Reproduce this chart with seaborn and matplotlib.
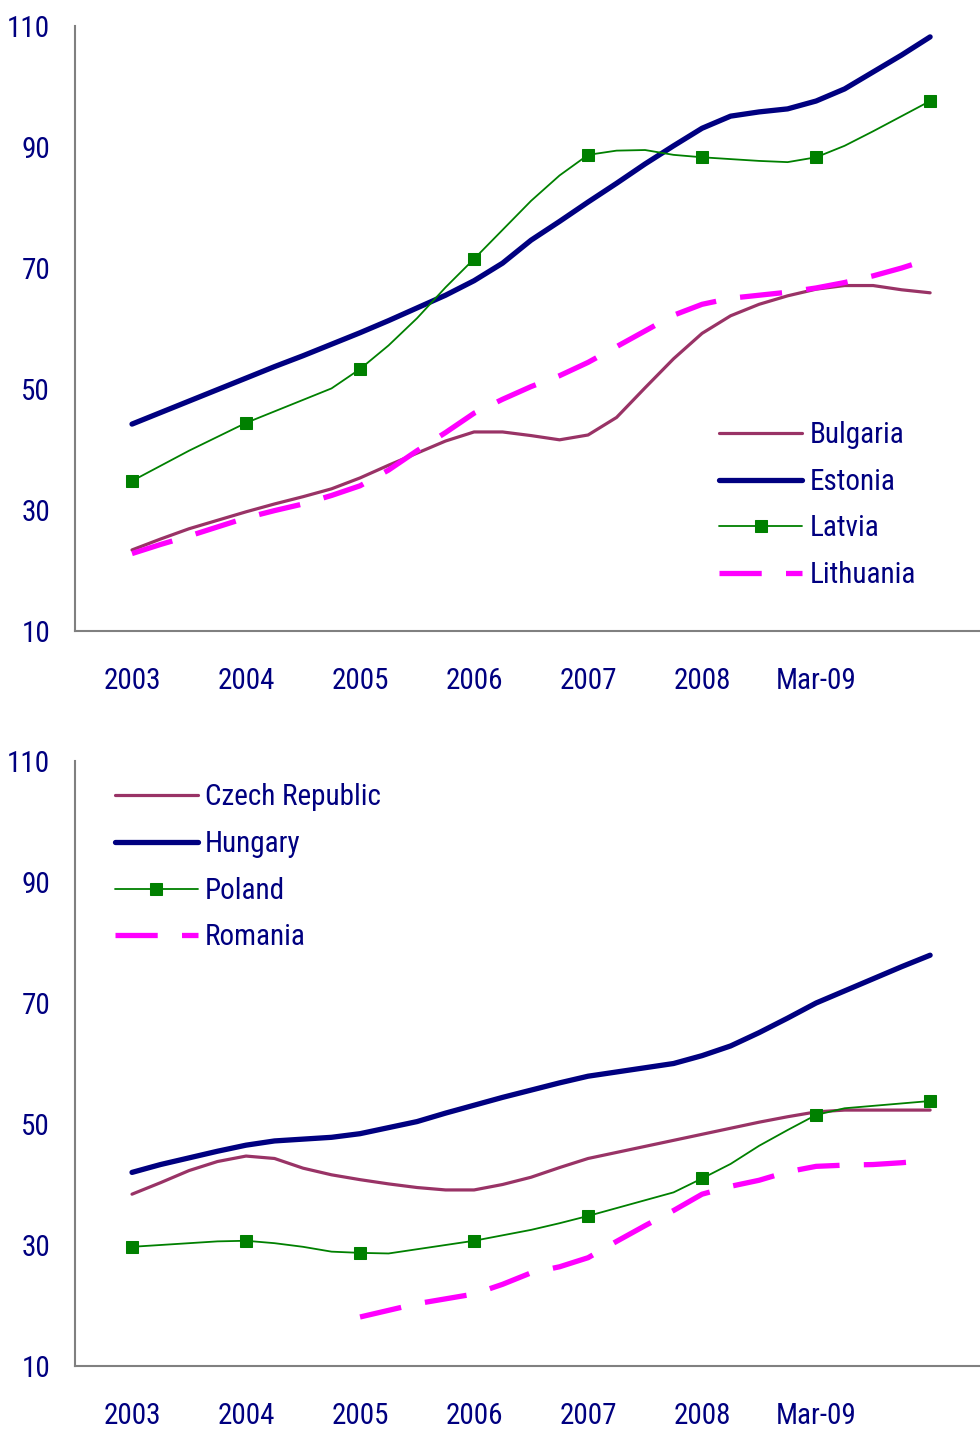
import numpy as np
import pandas as pd
import matplotlib
matplotlib.use("Agg")
import matplotlib.pyplot as plt
import seaborn as sns
from matplotlib import font_manager

# ---------------- data (quarterly, 2003 .. end) ----------------
quarters = list(range(29))
tick_positions = [0, 4, 8, 12, 16, 20, 24]
tick_labels = ["2003", "2004", "2005", "2006", "2007", "2008", "Mar-09"]
yticks = [10, 30, 50, 70, 90, 110]

bulgaria = [23.4, 25.2, 26.9, 28.3, 29.7, 31.0, 32.2, 33.5, 35.3, 37.4, 39.4, 41.4, 42.9, 42.9,
            42.3, 41.6, 42.4, 45.3, 50.2, 55.0, 59.2, 62.1, 64.0, 65.4, 66.5, 67.1, 67.1, 66.4, 65.9]
estonia = [44.2, 46.1, 48.0, 49.9, 51.8, 53.7, 55.5, 57.4, 59.3, 61.3, 63.4, 65.5, 67.9, 70.8,
           74.6, 77.7, 80.9, 84.0, 87.2, 90.2, 93.1, 95.1, 95.8, 96.3, 97.6, 99.6, 102.4, 105.2, 108.2]
latvia = [34.8, 37.3, 39.8, 42.1, 44.4, 46.3, 48.2, 50.1, 53.3, 57.2, 61.7, 66.8, 71.5, 76.3,
          81.1, 85.3, 88.7, 89.4, 89.5, 88.7, 88.3, 88.0, 87.7, 87.5, 88.3, 90.2, 92.6, 95.1, 97.6]
lithuania = [22.8, 24.3, 25.7, 27.2, 28.7, 29.9, 31.0, 32.4, 34.0, 36.6, 39.8, 42.8, 46.0, 48.3,
             50.4, 52.2, 54.4, 57.0, 59.6, 62.2, 64.0, 65.0, 65.5, 66.0, 66.7, 67.6, 68.7, 70.0, 71.5]

czech = [38.4, 40.3, 42.3, 43.8, 44.7, 44.3, 42.7, 41.6, 40.8, 40.1, 39.5, 39.1, 39.1, 40.0,
         41.2, 42.8, 44.3, 45.3, 46.3, 47.3, 48.3, 49.3, 50.3, 51.2, 52.0, 52.3, 52.3, 52.3, 52.3]
hungary = [42.0, 43.3, 44.4, 45.5, 46.5, 47.2, 47.5, 47.8, 48.4, 49.4, 50.4, 51.8, 53.1, 54.4,
           55.6, 56.8, 57.9, 58.6, 59.3, 60.0, 61.3, 62.9, 65.1, 67.5, 70.0, 72.0, 74.0, 76.0, 77.9]
poland = [29.7, 30.0, 30.3, 30.6, 30.7, 30.3, 29.7, 28.9, 28.7, 28.6, 29.3, 30.0, 30.7, 31.6,
          32.5, 33.6, 34.8, 36.1, 37.4, 38.7, 41.0, 43.4, 46.4, 49.0, 51.5, 52.6, 53.0, 53.4, 53.8]
romania = [np.nan] * 8 + [18.1, 19.2, 20.3, 21.1, 21.9, 23.5, 25.4, 26.4, 27.9, 30.6, 33.2, 35.7,
                          38.4, 39.7, 40.7, 42.1, 43.0, 43.2, 43.3, 43.6, 44.0]

# ---------------- styling ----------------
sns.set_style("white")


def pick_font():
    for fam in ["Liberation Sans Narrow", "Arial Narrow", "Roboto Condensed", "Liberation Sans"]:
        try:
            font_manager.findfont(font_manager.FontProperties(family=fam), fallback_to_default=False)
            return fam
        except Exception:
            continue
    return "DejaVu Sans"


FONT = pick_font()
plt.rcParams["font.family"] = [FONT, "DejaVu Sans"]

TEXT = "#000080"
PLUM = "#993366"
NAVY = "#000080"
GREEN = "#008000"
MAGENTA = "#FF00FF"
FS = 21

fig = plt.figure(figsize=(9.8, 14.29), dpi=100)
W, H = 980, 1429


def axes_rect(top_px, bottom_px, left_px=75, right_px=980):
    return [left_px / W, 1 - bottom_px / H, (right_px - left_px) / W, (bottom_px - top_px) / H]


ax1 = fig.add_axes(axes_rect(26, 631))
ax2 = fig.add_axes(axes_rect(761, 1366))


def draw(ax, series, names):
    styles = [
        dict(color=PLUM, linewidth=2.3),
        dict(color=NAVY, linewidth=3.8),
        dict(color=GREEN, linewidth=1.3, marker="s", markersize=8,
             markevery=[0, 4, 8, 12, 16, 20, 24, 28], markerfacecolor=GREEN,
             markeredgecolor=GREEN),
        dict(color=MAGENTA, linewidth=3.8, dashes=(8, 4.6)),
    ]
    for vals, name, st in zip(series, names, styles):
        df = pd.DataFrame({"q": quarters, "v": vals}).dropna()
        sns.lineplot(data=df, x="q", y="v", ax=ax, label=name, **st)
    ax.set_xlim(-2, 29.75)
    ax.set_ylim(10, 110)
    ax.set_yticks(yticks)
    ax.set_yticklabels([str(t) for t in yticks])
    ax.set_xticks(tick_positions)
    ax.set_xticklabels(tick_labels)
    ax.set_xlabel("")
    ax.set_ylabel("")
    for s in ["top", "right"]:
        ax.spines[s].set_visible(False)
    for s in ["left", "bottom"]:
        ax.spines[s].set_color("#808080")
        ax.spines[s].set_linewidth(1.5)
    ax.tick_params(axis="both", length=0, labelsize=FS, labelcolor=TEXT)
    ax.tick_params(axis="y", pad=18)
    ax.tick_params(axis="x", pad=26)


draw(ax1, [bulgaria, estonia, latvia, lithuania], ["Bulgaria", "Estonia", "Latvia", "Lithuania"])
draw(ax2, [czech, hungary, poland, romania], ["Czech Republic", "Hungary", "Poland", "Romania"])

leg_kw = dict(frameon=False, fontsize=FS, handlelength=2.85, handletextpad=0.25,
              labelspacing=0.64, borderpad=0, borderaxespad=0, labelcolor=TEXT, loc="upper left")
ax1.legend(bbox_to_anchor=(0.712, 0.347), **leg_kw)
ax2.legend(bbox_to_anchor=(0.044, 0.963), **leg_kw)

fig.savefig("out.png", dpi=100)
print(FONT)
